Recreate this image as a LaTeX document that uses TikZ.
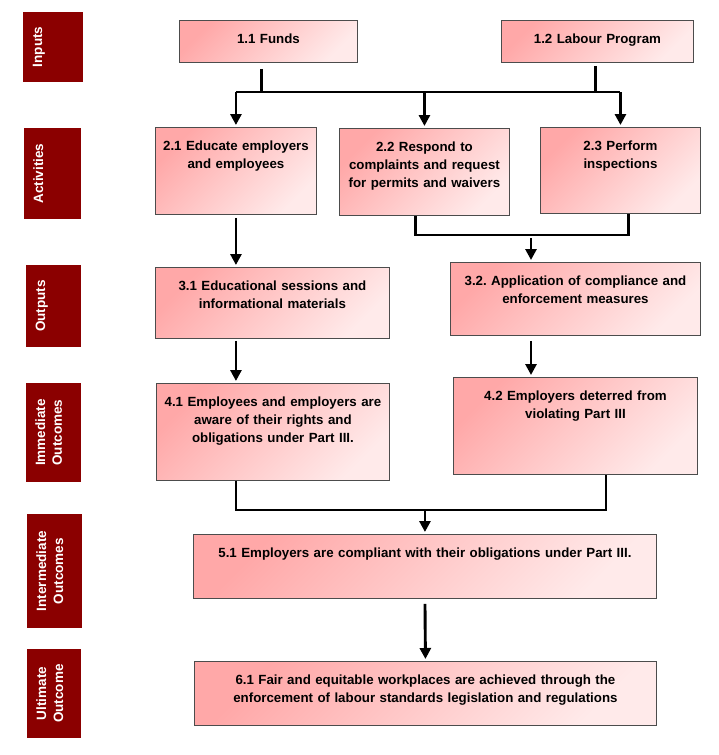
\documentclass[tikz,border=0pt]{standalone}
\usepackage{fontspec}
\setmainfont{Liberation Sans}
\usetikzlibrary{arrows.meta}
\definecolor{labelred}{RGB}{139,0,0}
\definecolor{boxtop}{RGB}{255,168,168}
\definecolor{boxbottom}{RGB}{255,234,234}
\frenchspacing

\begin{document}
\begin{tikzpicture}[x=1pt,y=1pt]
	\tikzstyle{every node}+=[inner ysep=0pt]
	\tikzstyle{stagebox}=[draw=black!70, line width=0.9pt, top color=boxtop, bottom color=boxbottom, shading angle=45, anchor=north west, inner xsep=4pt, align=center, text height=23pt, font=\bfseries\fontsize{13.3}{18}\selectfont]
	\tikzstyle{tier}=[fill=labelred, text=white, rotate=90, inner xsep=4pt, align=center, text height=19pt, font=\bfseries\fontsize{13.5}{17}\selectfont]
	\tikzstyle{wire}=[black, line width=2.9pt]
	\tikzstyle{flow}=[wire, -{Triangle[width=11pt,length=11pt]}, shorten >=2pt]
	\useasboundingbox (0,0) rectangle (718,-755);
	% row labels
	\node[tier, text width=62pt, text depth=41pt] (inputs) at (53,-47) {Inputs};
	\node[tier, text width=83pt, text depth=38pt] (activities) at (52.5,-173.5) {Activities};
	\node[tier, text width=74pt, text depth=36pt] (outputs) at (53.5,-306) {Outputs};
	\node[tier, text width=91pt, text depth=36pt] (immediate) at (53.5,-432.5) {Immediate\\Outcomes};
	\node[tier, text width=106pt, text depth=36pt] (intermediate) at (54.5,-571) {Intermediate\\Outcomes};
	\node[tier, text width=81pt, text depth=35pt] (ultimate) at (54,-693.5) {Ultimate\\Outcome};
	% boxes
	\node[stagebox, text width=170pt, text depth=19pt] (fund) at (179,-20) {1.1 Funds};
	\node[stagebox, text width=184pt, text depth=19pt] (labour) at (501,-20) {1.2 Labour Program};
	\node[stagebox, text width=153pt, text depth=64pt] (educate) at (155,-127) {2.1 Educate employers\\and employees};
	\node[stagebox, text width=162pt, text depth=64pt] (respond) at (339,-128) {2.2 Respond to\\complaints and request\\for permits and waivers};
	\node[stagebox, text width=152pt, text depth=63pt] (inspect) at (540,-127) {2.3 Perform\\inspections};
	\node[stagebox, text width=226pt, text depth=48pt] (sessions) at (155,-267) {3.1 Educational sessions and\\informational materials};
	\node[stagebox, text width=242pt, text depth=50pt] (measures) at (450,-262) {3.2. Application of compliance and\\enforcement measures};
	\node[stagebox, text width=225pt, text depth=74pt] (aware) at (156,-383) {4.1 Employees and employers are\\aware of their rights and\\obligations under Part III.};
	\node[stagebox, text width=236pt, text depth=74pt] (deterred) at (453,-377) {4.2 Employers deterred from\\violating Part III};
	\node[stagebox, text width=455pt, text depth=41pt] (compliant) at (193,-534) {5.1 Employers are compliant with their obligations under Part III.};
	\node[stagebox, text width=454pt, text depth=41pt] (workplaces) at (194,-661) {6.1 Fair and equitable workplaces are achieved through the\\enforcement of labour standards legislation and regulations};
	% inputs to activities
	\coordinate (bus1) at (0,-92);
	\draw[wire, shorten <=6pt] ([xshift=-7pt]fund.south) -- ++(0,-30);
	\draw[wire, shorten <=3pt] ([xshift=-2pt]labour.south) -- ++(0,-30);
	\draw[wire] (bus1 -| educate) -- (bus1 -| inspect);
	\foreach \n in {educate,respond,inspect}
		\draw[flow] (bus1 -| \n) -- (\n.north);
	% activities to outputs
	\coordinate (bus2) at (531,-235);
	\draw[flow, shorten <=3pt] (educate.south) -- (educate.south |- sessions.north);
	\draw[wire] ([xshift=-9pt]respond.south) |- (bus2) -| ([xshift=8pt]inspect.south);
	\draw[flow, shorten <=3pt] (bus2) -- (bus2 |- measures.north);
	% outputs to immediate outcomes
	\draw[flow, shorten <=2pt] (educate.south |- sessions.south) -- (educate.south |- aware.north);
	\draw[flow, shorten <=5pt] (bus2 |- measures.south) -- (bus2 |- deterred.north);
	% immediate to intermediate and ultimate
	\coordinate (bus3) at (606,-510);
	\draw[wire] (educate.south |- aware.south) |- (bus3) -- (bus3 |- deterred.south);
	\draw[flow] (bus3 -| compliant) -- (compliant.north);
	\draw[flow, shorten <=5pt] (compliant.south) -- (workplaces.north);
\end{tikzpicture}
\end{document}
